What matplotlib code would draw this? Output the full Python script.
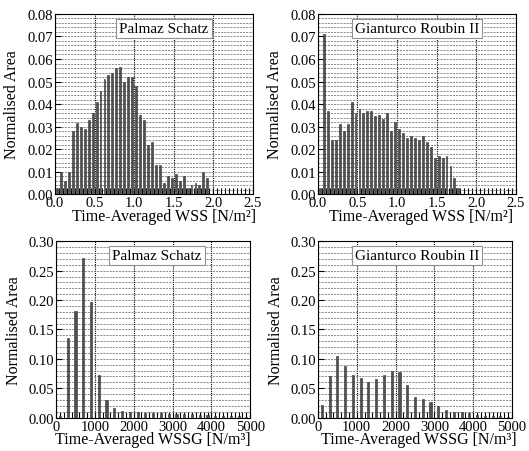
import matplotlib
matplotlib.use("Agg")
import matplotlib.pyplot as plt
from matplotlib.ticker import MultipleLocator, FormatStrFormatter
import numpy as np

plt.rcParams['font.family'] = ['Liberation Serif', 'DejaVu Serif']

# WSS histograms: 50 bins of 0.05 N/m^2 from 0 to 2.5
wss_bin = 0.05
wss_centres = np.arange(50) * wss_bin + wss_bin / 2
palmaz_wss = [0.003, 0.010, 0.006, 0.010, 0.028, 0.0315, 0.030, 0.029, 0.033, 0.036,
              0.041, 0.046, 0.051, 0.053, 0.054, 0.056, 0.0565, 0.050, 0.052, 0.052,
              0.048, 0.035, 0.033, 0.022, 0.023, 0.013, 0.013, 0.005, 0.008, 0.007,
              0.009, 0.006, 0.008, 0.003, 0.004, 0.005, 0.004, 0.010, 0.007, 0.0,
              0, 0, 0, 0, 0, 0, 0, 0, 0, 0]
gianturco_wss = [0.003, 0.071, 0.037, 0.024, 0.024, 0.031, 0.028, 0.031, 0.041, 0.036,
                 0.038, 0.036, 0.037, 0.037, 0.0345, 0.035, 0.0335, 0.036, 0.028, 0.032,
                 0.029, 0.027, 0.025, 0.026, 0.025, 0.024, 0.026, 0.023, 0.021, 0.016,
                 0.017, 0.016, 0.017, 0.0125, 0.007, 0.003, 0.0, 0, 0, 0,
                 0, 0, 0, 0, 0, 0, 0, 0, 0, 0]

# WSSG histograms: 25 bins of 200 N/m^3 from 0 to 5000
wssg_bin = 200
wssg_centres = np.arange(25) * wssg_bin + wssg_bin / 2
palmaz_wssg = [0.003, 0.135, 0.182, 0.271, 0.196, 0.073, 0.030, 0.017, 0.011, 0.010,
               0.009, 0.008, 0.007, 0.007, 0.006, 0.006, 0.006, 0.006, 0.005, 0.004,
               0.003, 0.002, 0.002, 0.002, 0.001]
gianturco_wssg = [0.022, 0.071, 0.105, 0.088, 0.073, 0.067, 0.060, 0.066, 0.072, 0.080,
                  0.077, 0.055, 0.035, 0.031, 0.027, 0.020, 0.013, 0.010, 0.009, 0.007,
                  0.004, 0.003, 0.002, 0.002, 0.001]

fig = plt.figure(figsize=(5.29, 4.52), dpi=100)

panels = [
    ([0.104, 0.568, 0.374, 0.399], wss_centres, palmaz_wss, 'Palmaz Schatz', 0.55, 'wss', 0.55),
    ([0.601, 0.568, 0.374, 0.399], wss_centres, gianturco_wss, 'Gianturco Roubin II', 0.5, 'wss', 0.52),
    ([0.106, 0.074, 0.367, 0.390], wssg_centres, palmaz_wssg, 'Palmaz Schatz', 0.52, 'wssg', 0.5),
    ([0.601, 0.074, 0.367, 0.390], wssg_centres, gianturco_wssg, 'Gianturco Roubin II', 0.51, 'wssg', 0.52),
]

for rect, x, y, name, tx, kind, lx in panels:
    ax = fig.add_axes(rect)
    if kind == 'wss':
        ax.bar(x, y, width=0.024, color='#505050', edgecolor='#303030', linewidth=0.4, zorder=3)
        ax.set_xlim(0, 2.5)
        ax.set_ylim(0, 0.08)
        ax.xaxis.set_major_locator(MultipleLocator(0.5))
        ax.xaxis.set_minor_locator(MultipleLocator(0.05))
        ax.yaxis.set_major_locator(MultipleLocator(0.01))
        ax.yaxis.set_minor_locator(MultipleLocator(0.002))
        ax.xaxis.set_major_formatter(FormatStrFormatter('%.1f'))
        ax.yaxis.set_major_formatter(FormatStrFormatter('%.2f'))
        ax.set_xlabel('Time-Averaged WSS [N/m²]', fontsize=11.5)
    else:
        ax.bar(x, y, width=55, color='#505050', edgecolor='#303030', linewidth=0.4, zorder=3)
        ax.set_xlim(0, 5000)
        ax.set_ylim(0, 0.30)
        ax.xaxis.set_major_locator(MultipleLocator(1000))
        ax.xaxis.set_minor_locator(MultipleLocator(100))
        ax.yaxis.set_major_locator(MultipleLocator(0.05))
        ax.yaxis.set_minor_locator(MultipleLocator(0.01))
        ax.yaxis.set_major_formatter(FormatStrFormatter('%.2f'))
        ax.set_xlabel('Time-Averaged WSSG [N/m³]', fontsize=11.5)
    ax.set_ylabel('Normalised Area', fontsize=11.5)
    ax.yaxis.set_label_coords(-0.175, 0.5)
    ax.xaxis.set_label_coords(lx, -0.078)
    ax.yaxis.grid(True, which='both', linestyle=(0, (3, 1.5)), color='#606060', linewidth=0.5, zorder=1)
    ax.xaxis.grid(True, which='major', linestyle=(0, (1, 1)), color='black', linewidth=0.8, zorder=1)
    ax.tick_params(which='both', direction='in', labelsize=10.5, pad=1.5)
    ax.tick_params(which='major', length=4)
    ax.tick_params(which='minor', length=4, width=0.8)
    ax.tick_params(axis='y', which='minor', length=0)
    for s in ax.spines.values():
        s.set_linewidth(0.8)
    ax.text(tx, 0.92, name, transform=ax.transAxes, ha='center', va='center', fontsize=11,
            bbox=dict(boxstyle='square,pad=0.2', facecolor='white', edgecolor='#909090', linewidth=0.8),
            zorder=5)

fig.savefig('out.png', dpi=100)
